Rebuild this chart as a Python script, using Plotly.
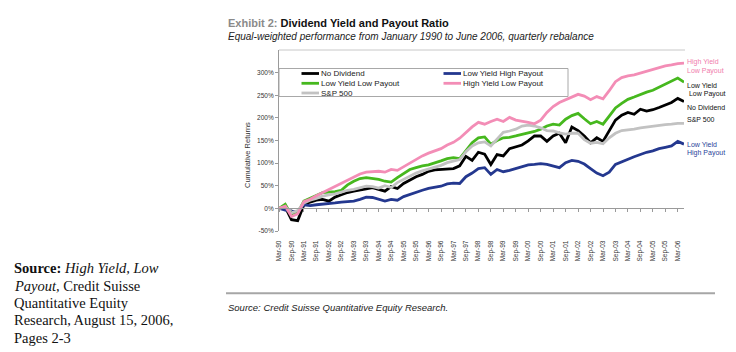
import plotly.graph_objects as go

# ---------------- data ----------------
years = list(range(1990, 2007))
months = ["Mar", "Jun", "Sep", "Dec"]
quarters = [f"{m}-{str(y)[2:]}" for y in years for m in months][:66]  # Mar-90 .. Jun-06

tick_labels = [q for q in quarters if q.startswith("Mar") or q.startswith("Sep")]

no_dividend = [0, 3, -25, -27, 8, 14, 18, 20, 16, 25,
               30, 35, 38, 40, 43, 46, 42, 38, 48, 44,
               55, 62, 70, 75, 82, 85, 86, 86, 88, 94,
               115, 106, 124, 120, 97, 119, 116, 132, 136, 140,
               149, 160, 160, 148, 160, 166, 145, 180, 172, 160,
               145, 156, 148, 172, 195, 206, 212, 208, 219, 215,
               218, 223, 228, 234, 243, 236]

low_yield_high_payout = [0, -4, -6, -8, 8, 6, 8, 9, 10, 12,
                         14, 15, 16, 20, 25, 24, 20, 16, 20, 18,
                         26, 31, 36, 40, 44, 47, 49, 54, 56, 55,
                         70, 78, 88, 90, 75, 86, 81, 84, 88, 93,
                         96, 97, 99, 97, 94, 90, 101, 106, 104, 98,
                         88, 78, 72, 80, 97, 103, 108, 114, 119, 124,
                         127, 132, 135, 138, 148, 142]

low_yield_low_payout = [0, 9, -15, -10, 16, 22, 28, 35, 36, 37,
                        40, 52, 60, 66, 68, 66, 64, 60, 58, 68,
                        78, 86, 90, 94, 96, 100, 105, 110, 112, 110,
                        128, 145, 156, 158, 142, 150, 156, 157, 160, 164,
                        167, 170, 175, 182, 186, 184, 197, 205, 210, 198,
                        187, 192, 186, 204, 222, 232, 241, 246, 252, 257,
                        261, 268, 274, 282, 288, 279]

high_yield_low_payout = [0, 5, -18, -12, 15, 20, 28, 35, 42, 48,
                         55, 62, 70, 76, 80, 81, 82, 80, 86, 84,
                         92, 100, 108, 116, 122, 127, 132, 140, 146, 155,
                         168, 180, 190, 186, 192, 197, 192, 201, 195, 193,
                         190, 187, 195, 212, 225, 234, 240, 245, 252, 248,
                         240, 247, 242, 260, 280, 289, 293, 295, 299, 303,
                         307, 310, 315, 317, 320, 321]

sp500 = [0, 4, -10, -5, 12, 18, 22, 27, 30, 32,
         36, 40, 42, 45, 49, 48, 45, 50, 46, 57,
         64, 70, 78, 83, 87, 90, 95, 101, 105, 108,
         125, 138, 145, 147, 138, 152, 168, 171, 175, 182,
         184, 182, 178, 172, 171, 167, 164, 166, 166, 152,
         144, 146, 143, 156, 166, 172, 173, 175, 178, 180,
         181, 183, 185, 186, 188, 188]

series_names = ["No Dividend", "Low Yield High Payout", "Low Yield Low Payout",
                "High Yield Low Payout", "S&P 500"]
series_values = [no_dividend, low_yield_high_payout, low_yield_low_payout,
                 high_yield_low_payout, sp500]
series_colors = ["#000000", "#24388F", "#46B81E", "#F38DB6", "#C2C2C2"]

y_ticks = [-50, 0, 50, 100, 150, 200, 250, 300]

# ---------------- geometry helpers (pixel -> paper) ----------------
W, H = 736, 352
L, R, T, B = 279, 52, 50, 121
PW, PH = W - L - R, H - T - B


def px(x):
    return (x - L) / PW


def py(y):
    return (H - B - y) / PH


FONT = "Liberation Sans, Arial, sans-serif"

fig = go.Figure()
draw_order = [0, 1, 2, 4, 3]
for k in draw_order:
    fig.add_trace(go.Scatter(x=quarters, y=series_values[k], mode="lines",
                             name=series_names[k], showlegend=False,
                             line=dict(color=series_colors[k], width=2.8),
                             hoverinfo="skip"))

# invisible helper trace so the zero-line axis is drawn
fig.add_trace(go.Scatter(x=[0, len(quarters) - 1], y=[None, None], xaxis="x2",
                         showlegend=False, hoverinfo="skip"))

fig.update_layout(
    width=W, height=H,
    margin=dict(l=L, r=R, t=T, b=B, pad=0),
    paper_bgcolor="#ffffff", plot_bgcolor="#ffffff",
    font=dict(family=FONT, color="#222"),
    xaxis=dict(type="category", categoryarray=quarters, range=[0, len(quarters) - 1],
               tickvals=tick_labels, ticktext=tick_labels, tickangle=-90,
               tickfont=dict(size=6.5, color="#333"), showgrid=False, zeroline=False,
               showline=False, ticks="outside", ticklen=6, tickcolor="rgba(0,0,0,0)"),
    xaxis2=dict(overlaying="x", anchor="free", position=(0 - (-50)) / 400,
                range=[0, len(quarters) - 1], tickvals=list(range(0, len(quarters), 2)),
                showticklabels=False, showgrid=False, zeroline=False,
                showline=True, linecolor="#9a9a9a", linewidth=1,
                ticks="outside", ticklen=3, tickcolor="#9a9a9a"),
    yaxis=dict(range=[-50, 350], tickvals=y_ticks,
               ticktext=[f"{v}%" for v in y_ticks],
               tickfont=dict(size=6.5, color="#333"), showgrid=False, zeroline=False,
               showline=True, linecolor="#9a9a9a", linewidth=1,
               ticks="outside", ticklen=3, tickcolor="#9a9a9a"),
)

shapes = []
ann = []

# top plot border line
shapes.append(dict(type="line", xref="paper", yref="paper", x0=0, x1=px(685), y0=1, y1=1,
                   line=dict(color="#c8c8c8", width=1)))

# legend box
shapes.append(dict(type="rect", xref="paper", yref="paper",
                   x0=px(279), x1=px(568), y0=py(68.5), y1=py(96.5),
                   line=dict(color="#a8a8a8", width=1), fillcolor="rgba(255,255,255,0)"))
legend_pos = {
    "No Dividend": (301.5, 73.5),
    "Low Yield Low Payout": (301.5, 83.3),
    "S&P 500": (301.5, 93),
    "Low Yield High Payout": (443.5, 73.5),
    "High Yield Low Payout": (443.5, 83.3),
}
for name, color in zip(series_names, series_colors):
    lx, ly = legend_pos[name]
    shapes.append(dict(type="line", xref="paper", yref="paper",
                       x0=px(lx), x1=px(lx + 17.5), y0=py(ly), y1=py(ly),
                       line=dict(color=color, width=2.8)))
    ann.append(dict(text=name, xref="paper", yref="paper", x=px(lx + 17.5), y=py(ly),
                    xanchor="left", yanchor="middle", showarrow=False,
                    font=dict(size=8, color="#222", family=FONT)))

# right-side end labels
end_labels = [
    ("High Yield", 62, "#F07CAC"), ("Low Payout", 71, "#F07CAC"),
    ("Low Yield", 85, "#111"), (" Low Payout", 93.5, "#111"),
    ("No Dividend", 107.5, "#111"),
    ("S&P 500", 119, "#111"),
    ("Low Yield", 144.5, "#2A3F9A"), ("High Payout", 152.5, "#2A3F9A"),
]
for txt, yy, col in end_labels:
    ann.append(dict(text=txt, xref="paper", yref="paper", x=px(685), y=py(yy),
                    xanchor="left", yanchor="middle", showarrow=False,
                    font=dict(size=7, color=col, family=FONT)))

# y-axis title
ann.append(dict(text="Cumulative Returns", xref="paper", yref="paper", x=px(247), y=py(155),
                xanchor="center", yanchor="middle", textangle=-90, showarrow=False,
                font=dict(size=7.5, color="#333", family=FONT)))

# titles
ann.append(dict(text="<b><span style='color:#8a8a8a'>Exhibit 2:</span> Dividend Yield and Payout Ratio</b>",
                xref="paper", yref="paper", x=px(226), y=py(22.5), xanchor="left", yanchor="middle",
                showarrow=False, font=dict(size=11, color="#111", family=FONT)))
ann.append(dict(text="<i>Equal-weighted performance from January 1990 to June 2006, quarterly rebalance</i>",
                xref="paper", yref="paper", x=px(226), y=py(36.5), xanchor="left", yanchor="middle",
                showarrow=False, font=dict(size=10, color="#222", family=FONT)))

# footer rule + source
shapes.append(dict(type="line", xref="paper", yref="paper", x0=px(226), x1=px(715),
                   y0=py(293.3), y1=py(293.3), line=dict(color="#a6a6a6", width=2)))
ann.append(dict(text="<i>Source: Credit Suisse Quantitative Equity Research.</i>",
                xref="paper", yref="paper", x=px(226), y=py(307.3), xanchor="left", yanchor="middle",
                showarrow=False, font=dict(size=9.5, color="#222", family=FONT)))

# left-bottom citation (serif)
SERIF = "Liberation Serif, Times New Roman, serif"
cite_lines = [
    ("<b>Source:</b> <i>High Yield, Low</i>", 268.3),
    ("<i>Payout,</i> Credit Suisse", 285.5),
    ("Quantitative Equity", 302.7),
    ("Research, August 15, 2006,", 320.3),
    ("Pages 2-3", 337.5),
]
for txt, yy in cite_lines:
    ann.append(dict(text=txt, xref="paper", yref="paper", x=px(12), y=py(yy),
                    xanchor="left", yanchor="middle", showarrow=False,
                    font=dict(size=14.5, color="#111", family=SERIF)))

fig.update_layout(shapes=shapes, annotations=ann)
fig.write_html("out.html")
